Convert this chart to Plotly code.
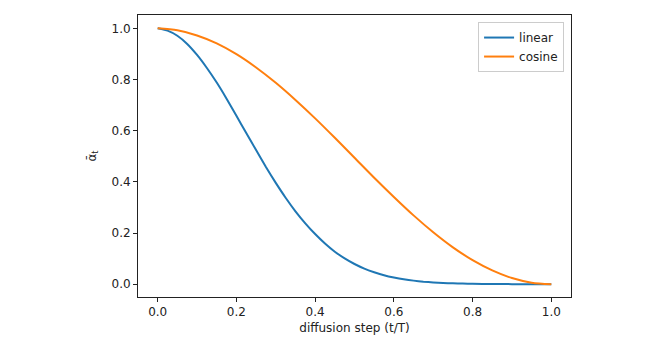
import plotly.graph_objects as go

t_steps = [0.0, 0.025, 0.05, 0.075, 0.1, 0.125, 0.15, 0.175, 0.2, 0.225, 0.25, 0.275, 0.3,
           0.325, 0.35, 0.375, 0.4, 0.425, 0.45, 0.475, 0.5, 0.525, 0.55, 0.575, 0.6,
           0.625, 0.65, 0.675, 0.7, 0.725, 0.75, 0.775, 0.8, 0.85, 0.9, 0.95, 1.0]
linear_alpha = [1.000, 0.991, 0.971, 0.939, 0.896, 0.845, 0.788, 0.725, 0.658, 0.591, 0.524, 0.458, 0.396,
                0.338, 0.285, 0.238, 0.196, 0.159, 0.127, 0.101, 0.079, 0.061, 0.047, 0.035, 0.026,
                0.019, 0.014, 0.010, 0.007, 0.005, 0.0034, 0.0023, 0.0016, 0.0007, 0.0003, 0.0001, 0.0]
cosine_t = [0.0, 0.05, 0.1, 0.15, 0.2, 0.25, 0.3, 0.35, 0.4, 0.45, 0.5,
            0.55, 0.6, 0.65, 0.7, 0.75, 0.8, 0.85, 0.9, 0.95, 1.0]
cosine_alpha = [1.000, 0.992, 0.972, 0.941, 0.899, 0.847, 0.787, 0.720, 0.648, 0.572, 0.494,
                0.416, 0.341, 0.269, 0.203, 0.144, 0.094, 0.054, 0.024, 0.006, 0.0]
x_ticks = [0.0, 0.2, 0.4, 0.6, 0.8, 1.0]
y_ticks = [0.0, 0.2, 0.4, 0.6, 0.8, 1.0]

FS = 12
fig = go.Figure()
fig.add_trace(go.Scatter(x=t_steps, y=linear_alpha, mode="lines", name="linear",
                         line=dict(color="#1f77b4", width=2, shape="spline", smoothing=0.4)))
fig.add_trace(go.Scatter(x=cosine_t, y=cosine_alpha, mode="lines", name="cosine",
                         line=dict(color="#ff7f0e", width=2, shape="spline", smoothing=0.8)))

axis_common = dict(showline=True, linecolor="#222", linewidth=1, mirror=True,
                   ticks="outside", ticklen=4, tickcolor="#222", tickwidth=1,
                   showgrid=False, zeroline=False,
                   tickfont=dict(family="DejaVu Sans", size=FS, color="#222"))

fig.update_layout(
    width=659, height=356,
    margin=dict(l=130, r=96, t=7, b=67),
    paper_bgcolor="white", plot_bgcolor="white",
    font=dict(family="DejaVu Sans", size=FS, color="#222"),
    xaxis=dict(range=[-0.05, 1.05], tickvals=x_ticks, ticktext=[f"{v:.1f}" for v in x_ticks],
               title=dict(text="diffusion step (t/T)", standoff=5,
                          font=dict(family="DejaVu Sans", size=FS, color="#222")),
               **axis_common),
    yaxis=dict(range=[-0.05, 1.052], tickvals=y_ticks, ticktext=[f"{v:.1f}" for v in y_ticks],
               title=dict(text="ᾱ<sub>t</sub>", standoff=12,
                          font=dict(family="DejaVu Sans", size=FS, color="#222")),
               **axis_common),
    legend=dict(x=0.984, y=0.975, xanchor="right", yanchor="top",
                bgcolor="rgba(255,255,255,0.8)", bordercolor="#cccccc", borderwidth=1,
                font=dict(family="DejaVu Sans", size=FS, color="#222"),
                tracegroupgap=2),
    showlegend=True,
)

fig.write_html("out.html")
